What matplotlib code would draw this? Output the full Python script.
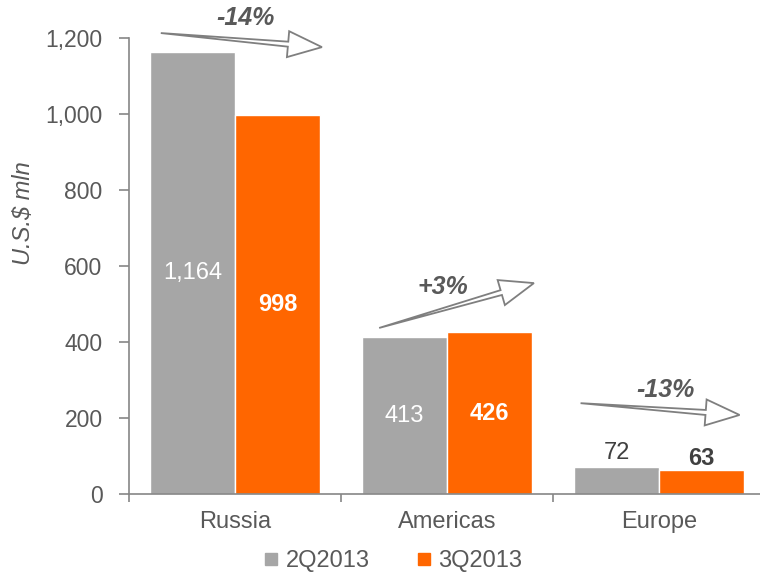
import matplotlib
matplotlib.use('Agg')
import matplotlib.pyplot as plt
import numpy as np
from matplotlib.patches import Polygon
from matplotlib.lines import Line2D
from matplotlib.transforms import IdentityTransform
from matplotlib.ticker import FuncFormatter

plt.rcParams['font.family'] = ['Liberation Sans', 'DejaVu Sans']

regions = ['Russia', 'Americas', 'Europe']
q2 = [1164, 413, 72]
q3 = [998, 426, 63]
q2_labels = ['1,164', '413', '72']
q3_labels = ['998', '426', '63']
series_names = ['2Q2013', '3Q2013']
changes = ['-14%', '+3%', '-13%']

# arrow tail/tip (offset from category, value) and label spot
arrow_tail = [(-0.35, 1213), (-0.32, 437), (-0.37, 239)]
arrow_tip = [(0.41, 1176), (0.41, 555), (0.38, 208)]
change_pos = [(0.05, 1253), (-0.02, 545), (0.03, 274)]

GRAY = '#A6A6A6'
ORANGE = '#FF6600'
TXT = '#595959'

fig = plt.figure(figsize=(7.6, 5.75), dpi=100)
ax = fig.add_axes([129/760, 81/575, 636/760, 456/575])

x = np.arange(len(regions))
w = 0.4
ax.bar(x - 0.2, q2, w, color=GRAY, edgecolor='white', linewidth=1)
ax.bar(x + 0.2, q3, w, color=ORANGE, edgecolor='white', linewidth=1)

ax.set_xlim(-0.5, 2.5)
ax.set_ylim(0, 1200)
ax.set_yticks(np.arange(0, 1201, 200))
ax.yaxis.set_major_formatter(FuncFormatter(lambda v, p: f'{int(v):,}'))
ax.set_xticks(x)
ax.set_xticklabels(regions)
ax.set_xticks([-0.5, 0.5, 1.5, 2.5], minor=True)
ax.tick_params(axis='x', which='major', length=0, pad=12, labelsize=17, labelcolor=TXT)
ax.tick_params(axis='x', which='minor', length=6, color='#868686', width=1.2)
ax.tick_params(axis='y', length=7, pad=12, labelsize=16.5, labelcolor=TXT, color='#868686', width=1.2)
for s in ['top', 'right']:
    ax.spines[s].set_visible(False)
for s in ['left', 'bottom']:
    ax.spines[s].set_color('#868686')
    ax.spines[s].set_linewidth(1.2)

# value labels
for i in range(len(regions)):
    if q2[i] > 150:
        ax.text(i - 0.2, q2[i] / 2, q2_labels[i], ha='center', va='center',
                color='white', fontsize=17)
        ax.text(i + 0.2, q3[i] / 2, q3_labels[i], ha='center', va='center',
                color='white', fontsize=17, fontweight='bold')
    else:
        ax.annotate(q2_labels[i], (i - 0.2, q2[i]), xytext=(0, 2), textcoords='offset points',
                    ha='center', va='bottom', color='#404040', fontsize=17)
        ax.annotate(q3_labels[i], (i + 0.2, q3[i]), xytext=(0, 0), textcoords='offset points',
                    ha='center', va='bottom', color='#404040', fontsize=17, fontweight='bold')


def block_arrow(p0, p1, shaft=5, head_w=26, head_l=34):
    t = ax.transData.transform(p0)
    e = ax.transData.transform(p1)
    d = e - t
    u = d / np.hypot(*d)
    n = np.array([-u[1], u[0]])
    b = e - u * head_l
    pts = [t, b + n * shaft / 2, b + n * head_w / 2, e, b - n * head_w / 2, b - n * shaft / 2]
    fig.patches.append(Polygon(pts, closed=True, facecolor='white', edgecolor='#7F7F7F',
                               linewidth=1.3, transform=IdentityTransform(), figure=fig))


for i in range(len(regions)):
    block_arrow((i + arrow_tail[i][0], arrow_tail[i][1]), (i + arrow_tip[i][0], arrow_tip[i][1]))
    ax.text(i + change_pos[i][0], change_pos[i][1], changes[i], ha='center', va='center',
            color=TXT, fontsize=18, fontweight='bold', fontstyle='italic', clip_on=False)

fig.text(24/760, 1 - 213/575, 'U.S.$ mln', rotation=90, ha='center', va='center',
         color=TXT, fontsize=17, fontstyle='italic')

handles = [Line2D([], [], marker='s', ls='', color=GRAY, markersize=8),
           Line2D([], [], marker='s', ls='', color=ORANGE, markersize=8)]
fig.legend(handles, series_names, loc='center', bbox_to_anchor=(393/760, 0.024), ncol=2,
           frameon=False, fontsize=17, labelcolor=TXT, handlelength=0.6,
           handletextpad=0.3, columnspacing=2.0)

fig.savefig('out.png', dpi=100)
